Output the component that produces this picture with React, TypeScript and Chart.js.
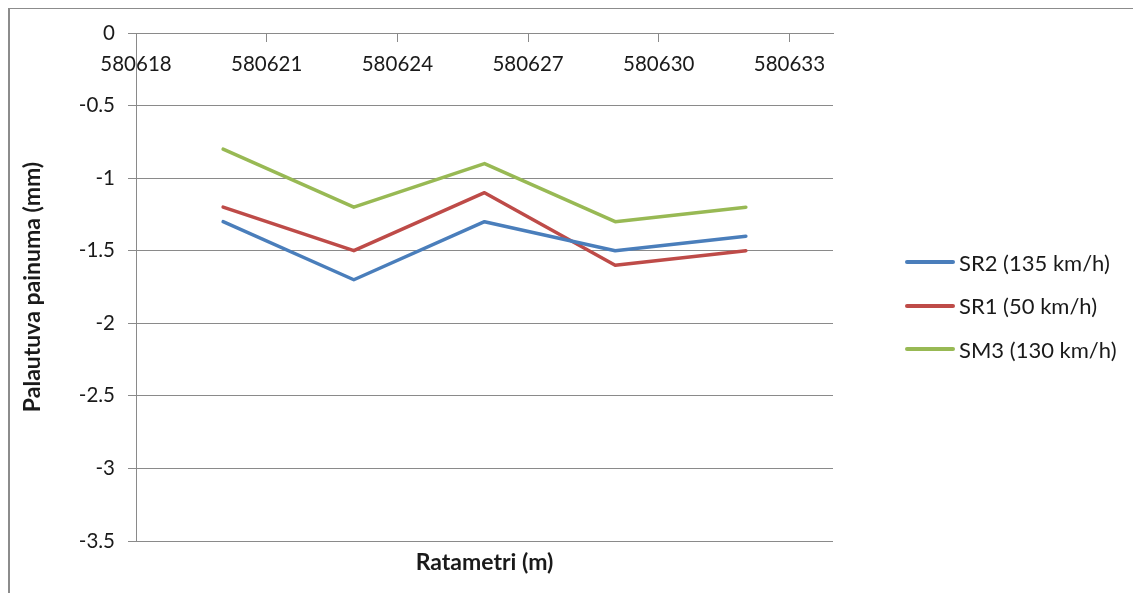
import React, { useEffect, useRef } from "react";
import { Chart, registerables } from "chart.js";

Chart.register(...registerables);

// ---- data ----
const xPositions = [580620, 580623, 580626, 580629, 580632];
const sr2Values = [-1.3, -1.7, -1.3, -1.5, -1.4];
const sr1Values = [-1.2, -1.5, -1.1, -1.6, -1.5];
const sm3Values = [-0.8, -1.2, -0.9, -1.3, -1.2];
const seriesLabels = ["SR2 (135 km/h)", "SR1 (50 km/h)", "SM3 (130 km/h)"];
const seriesColors = ["#4A7EBB", "#BE4B48", "#98B954"];
const xTickValues = [580618, 580621, 580624, 580627, 580630, 580633];
const yTickValues = [0, -0.5, -1, -1.5, -2, -2.5, -3, -3.5];
const xMin = 580618;
const xMax = 580634;
const yMin = -3.5;
const yMax = 0;
const xTitle = "Ratametri (m)";
const yTitle = "Palautuva painuma (mm)";

const FONT = "Lato, 'Open Sans', sans-serif";
const TEXT = "#1a1a1a";
const GRID = "#8a8a8a";

const xTitlePlugin = {
  id: "xTitleBelow",
  afterDraw(chart: any) {
    const { ctx, chartArea } = chart;
    ctx.save();
    ctx.font = `bold 23px ${FONT}`;
    ctx.fillStyle = TEXT;
    ctx.textAlign = "center";
    ctx.textBaseline = "middle";
    ctx.fillText(xTitle, (chartArea.left + chartArea.right) / 2, chartArea.bottom + 22);
    ctx.restore();
  },
};

export default function App() {
  const canvasRef = useRef<HTMLCanvasElement | null>(null);

  useEffect(() => {
    if (!canvasRef.current) return;
    const series = [sr2Values, sr1Values, sm3Values];
    const datasets = series.map((vals, i) => ({
      label: seriesLabels[i],
      data: xPositions.map((x, j) => ({ x, y: vals[j] })),
      showLine: true,
      borderColor: seriesColors[i],
      backgroundColor: seriesColors[i],
      borderWidth: 3.5,
      borderJoinStyle: "round" as const,
      borderCapStyle: "round" as const,
      pointRadius: 0,
      pointHoverRadius: 0,
    }));

    const chart = new Chart(canvasRef.current, {
      type: "scatter",
      data: { datasets },
      options: {
        animation: false,
        responsive: false,
        maintainAspectRatio: false,
        layout: { padding: { left: 0, top: 33, right: 308, bottom: 60 } },
        plugins: {
          legend: { display: false },
          tooltip: { enabled: false },
        },
        scales: {
          x: {
            type: "linear",
            min: xMin,
            max: xMax,
            position: { y: 0 } as any,
            afterBuildTicks: (s: any) => {
              s.ticks = xTickValues.map((v) => ({ value: v }));
            },
            ticks: {
              callback: (v: any) => String(v),
              font: { family: FONT, size: 20.5 },
              color: TEXT,
              padding: 11,
              maxRotation: 0,
              autoSkip: false,
            },
            grid: {
              display: true,
              drawOnChartArea: false,
              drawTicks: true,
              tickLength: 8,
              color: GRID,
            },
            border: { display: true, color: GRID, width: 1 },
          },
          y: {
            type: "linear",
            min: yMin,
            max: yMax,
            position: "left",
            afterBuildTicks: (s: any) => {
              s.ticks = yTickValues.map((v) => ({ value: v }));
            },
            afterFit: (s: any) => {
              s.width = 136;
            },
            ticks: {
              callback: (v: any) => String(v),
              font: { family: FONT, size: 20.5 },
              color: TEXT,
              padding: 13,
            },
            grid: { color: GRID, drawTicks: true, tickLength: 8 },
            border: { display: true, color: GRID, width: 1 },
            title: {
              display: true,
              text: yTitle,
              font: { family: FONT, size: 23, weight: "bold" },
              color: TEXT,
              padding: { top: 19, bottom: 0 },
            },
          },
        },
      },
      plugins: [xTitlePlugin],
    } as any);

    return () => chart.destroy();
  }, []);

  return (
    <div
      style={{
        position: "relative",
        margin: -8,
        width: 1141,
        height: 601,
        overflow: "hidden",
        background: "#fff",
      }}
    >
      <div
        style={{
          position: "absolute",
          left: 8,
          top: 7,
          width: 1129,
          height: 620,
          border: "2px solid #8c8c8c",
          boxSizing: "content-box",
        }}
      />
      <canvas
        ref={canvasRef}
        width={1141}
        height={601}
        style={{ position: "absolute", left: 0, top: 0 }}
      />
      <div
        style={{
          position: "absolute",
          left: 905,
          top: 247,
          font: `22px ${FONT}`,
          color: TEXT,
        }}
      >
        {seriesLabels.map((label, i) => (
          <div
            key={label}
            style={{ display: "flex", alignItems: "center", height: 30, marginBottom: 13.5 }}
          >
            <span
              style={{
                display: "inline-block",
                width: 50,
                height: 4,
                borderRadius: 2,
                background: seriesColors[i],
                marginRight: 4,
              }}
            />
            <span style={{ whiteSpace: "nowrap" }}>{label}</span>
          </div>
        ))}
      </div>
    </div>
  );
}
